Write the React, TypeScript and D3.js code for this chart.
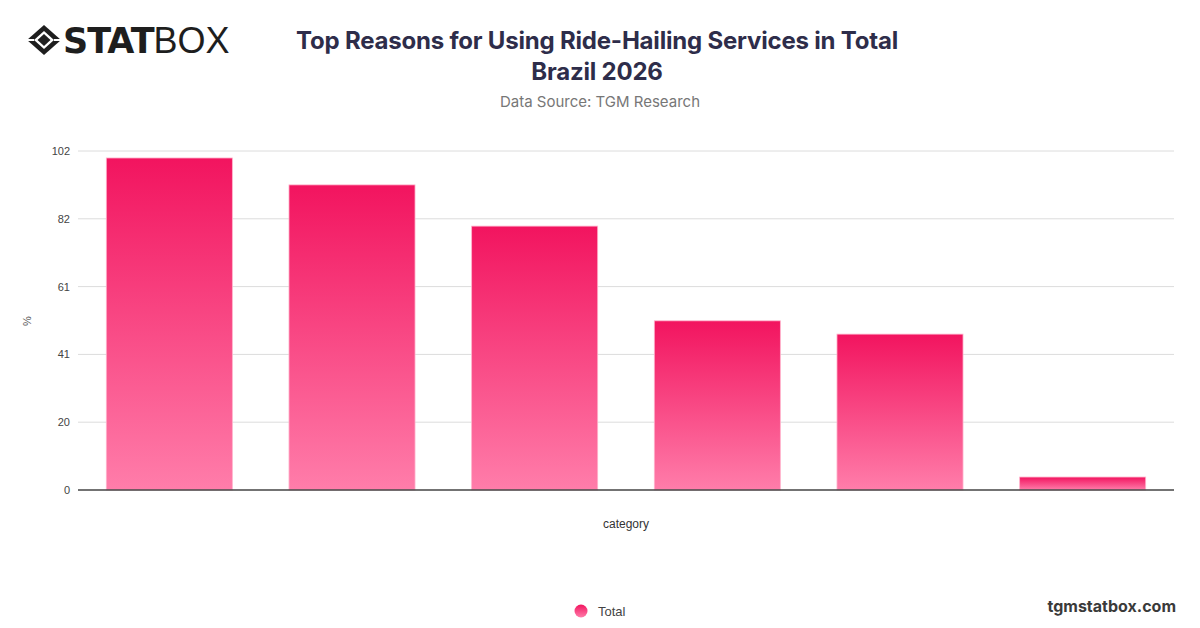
import React from "react";
import * as d3 from "d3";

const categories = ["Reason 1", "Reason 2", "Reason 3", "Reason 4", "Reason 5", "Reason 6"];
const totalValues = [99.9, 91.8, 79.4, 50.9, 46.9, 3.9];
const yTicks = [0, 20.4, 40.8, 61.2, 81.6, 102];
const titleLines = ["Top Reasons for Using Ride-Hailing Services in Total", "Brazil 2026"];
const subtitle = "Data Source: TGM Research";
const seriesName = "Total";

const W = 1200;
const H = 628;
const plot = { left: 78, right: 1174, top: 151, bottom: 490 };

export default function App() {
  const x = d3
    .scaleBand<string>()
    .domain(categories)
    .range([plot.left, plot.right])
    .paddingInner(0.31)
    .paddingOuter(0.155);
  const y = d3.scaleLinear().domain([0, 102]).range([plot.bottom, plot.top]);
  const font = "Inter, 'Noto Sans', sans-serif";
  const helv = "'Liberation Sans', Arial, sans-serif";

  return (
    <svg
      width={W}
      height={H}
      style={{ position: "absolute", left: 0, top: 0, background: "#fff" }}
      fontFamily={font}
    >
      <defs>
        <linearGradient id="barGrad" x1="0" y1="0" x2="0" y2="1">
          <stop offset="0%" stopColor="#F2145F" />
          <stop offset="100%" stopColor="#FF7DAA" />
        </linearGradient>
        <linearGradient id="legGrad" x1="0" y1="0" x2="0" y2="1">
          <stop offset="0%" stopColor="#F2145F" />
          <stop offset="100%" stopColor="#FF7DAA" />
        </linearGradient>
      </defs>

      {/* Logo */}
      <g transform="translate(44,40)">
        <path d="M0,-15 L17,0 L0,15 L-17,0 Z" fill="#1e1e1e" />
        <path d="M0,-9 L10,0 L0,9 L-10,0 Z" fill="#fff" />
        <path d="M0,-6 L6.5,0 L0,6 L-6.5,0 Z" fill="#1e1e1e" />
        <line x1="-17" y1="0" x2="-10" y2="0" stroke="#fff" strokeWidth="2" />
        <line x1="17" y1="0" x2="10" y2="0" stroke="#fff" strokeWidth="2" />
      </g>
      <text x={63} y={53} fontSize={35} fill="#1e1e1e" fontFamily="'DejaVu Sans', sans-serif">
        <tspan fontWeight={900} letterSpacing={-1}>STAT</tspan>
        <tspan fontWeight={300} fontFamily="'Liberation Sans', sans-serif" fontSize={36}>BOX</tspan>
      </text>

      {/* Title */}
      {titleLines.map((t, i) => (
        <text
          key={i}
          x={597}
          y={49 + i * 31}
          textAnchor="middle"
          fontSize={24}
          fontWeight={700}
          fill="#2E2D4A"
          letterSpacing={-0.2}
        >
          {t}
        </text>
      ))}
      <text x={600} y={107} textAnchor="middle" fontSize={15} fill="#777">
        {subtitle}
      </text>

      {/* Grid */}
      {yTicks.map((t, i) => (
        <g key={i}>
          {i > 0 && (
            <line x1={plot.left} x2={plot.right} y1={y(t)} y2={y(t)} stroke="#dcdcdc" strokeWidth={1} />
          )}
          <text x={70} y={y(t) + 4} textAnchor="end" fontSize={11} fill="#444" fontFamily={helv}>
            {Math.round(t)}
          </text>
        </g>
      ))}

      {/* Bars */}
      {categories.map((c, i) => (
        <rect
          key={c}
          x={x(c)!}
          y={y(totalValues[i])}
          width={x.bandwidth()}
          height={y(0) - y(totalValues[i])}
          fill="url(#barGrad)"
          stroke="#FFB3CC"
          strokeWidth={0.8}
        />
      ))}

      {/* Axis line */}
      <line x1={plot.left} x2={plot.right} y1={plot.bottom} y2={plot.bottom} stroke="#444" strokeWidth={1.3} />

      {/* Axis titles */}
      <text
        transform={`translate(31,321) rotate(-90)`}
        textAnchor="middle"
        fontSize={11}
        fill="#555"
        fontFamily={helv}
      >
        %
      </text>
      <text x={626} y={528} textAnchor="middle" fontSize={12} fill="#333" fontFamily={helv}>
        category
      </text>

      {/* Legend */}
      <circle cx={581} cy={611} r={6.5} fill="url(#legGrad)" />
      <text x={598} y={615.5} fontSize={13} fill="#444" fontFamily={helv}>
        {seriesName}
      </text>

      {/* Footer */}
      <text x={1176} y={612} textAnchor="end" fontSize={16} fontWeight={700} fill="#3a3a3a">
        tgmstatbox.com
      </text>
    </svg>
  );
}
